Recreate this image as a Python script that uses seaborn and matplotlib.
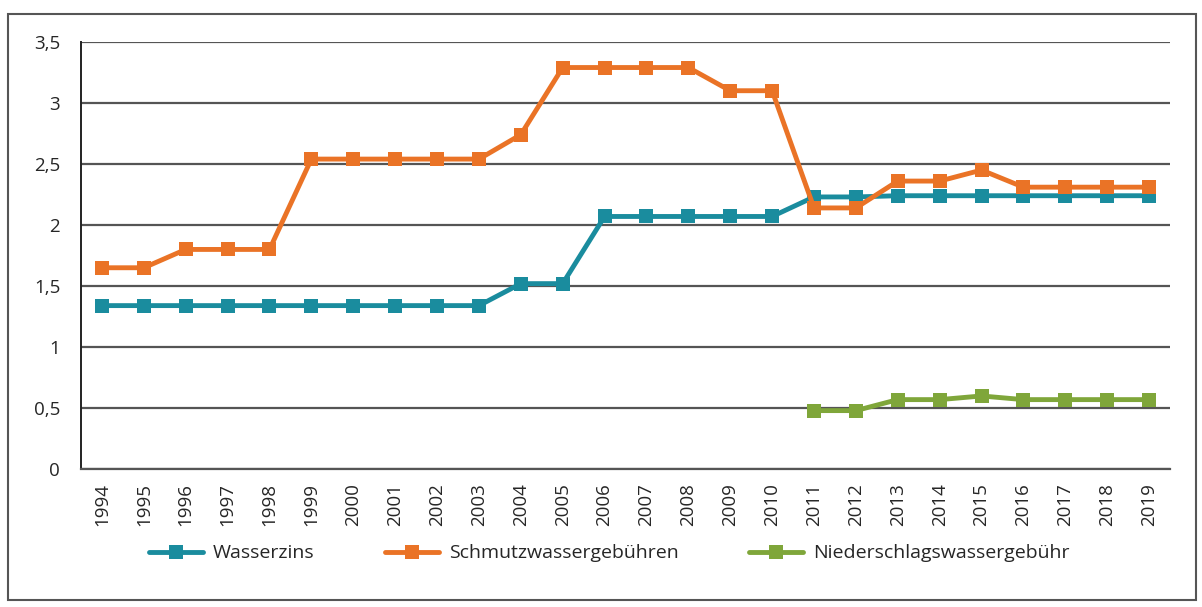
import matplotlib
matplotlib.use("Agg")
import matplotlib.pyplot as plt
import seaborn as sns
import pandas as pd
import numpy as np
from matplotlib.patches import Rectangle
from matplotlib.ticker import FuncFormatter, MultipleLocator

# data
jahre = list(range(1994, 2020))
wasserzins = [1.34, 1.34, 1.34, 1.34, 1.34, 1.34, 1.34, 1.34, 1.34, 1.34,
              1.52, 1.52, 2.07, 2.07, 2.07, 2.07, 2.07,
              2.23, 2.23, 2.24, 2.24, 2.24, 2.24, 2.24, 2.24, 2.24]
schmutzwasser = [1.65, 1.65, 1.80, 1.80, 1.80, 2.54, 2.54, 2.54, 2.54, 2.54,
                 2.74, 3.29, 3.29, 3.29, 3.29, 3.10, 3.10,
                 2.14, 2.14, 2.36, 2.36, 2.45, 2.31, 2.31, 2.31, 2.31]
niederschlag = [np.nan] * 17 + [0.48, 0.48, 0.57, 0.57, 0.60, 0.57, 0.57, 0.57, 0.57]

reihen = ["Wasserzins", "Schmutzwassergebühren", "Niederschlagswassergebühr"]
farben = ["#1a8c9e", "#ea7326", "#7fa63a"]

df = pd.DataFrame({
    "pos": list(range(len(jahre))) * 3,
    "wert": wasserzins + schmutzwasser + niederschlag,
    "reihe": [reihen[0]] * len(jahre) + [reihen[1]] * len(jahre) + [reihen[2]] * len(jahre),
})

sns.set_style("white")
plt.rcParams["font.family"] = ["Open Sans", "DejaVu Sans"]

fig = plt.figure(figsize=(12.02, 6.07), dpi=100)
ax = fig.add_axes([0.0674, 0.227, 0.906, 0.704])

sns.lineplot(data=df, x="pos", y="wert", hue="reihe", palette=farben,
             hue_order=reihen, marker="s", markersize=10, markeredgewidth=0,
             linewidth=3.5, ax=ax, legend=True)

ax.set_xlim(-0.5, len(jahre) - 0.5)
ax.set_ylim(0, 3.5)
ax.yaxis.set_major_locator(MultipleLocator(0.5))
ax.yaxis.set_major_formatter(FuncFormatter(lambda v, p: f"{v:g}".replace(".", ",")))
ax.grid(axis="y", color="#555555", linewidth=1.6)
ax.set_axisbelow(True)

ax.set_xticks(range(len(jahre)))
ax.set_xticklabels([str(j) for j in jahre], rotation=90, fontsize=13.5)
ax.set_xticks(np.arange(-0.5, len(jahre), 1), minor=True)
ax.tick_params(axis="x", which="major", length=0, pad=10)
ax.tick_params(axis="x", which="minor", length=7, width=1.2, color="#333333", direction="out")
ax.tick_params(axis="y", length=7, width=1.2, color="#333333", labelsize=13.5, pad=8)

for s in ["top", "right"]:
    ax.spines[s].set_visible(False)
ax.spines["left"].set_color("#222222")
ax.spines["left"].set_linewidth(1.4)
ax.spines["bottom"].set_color("#555555")
ax.spines["bottom"].set_linewidth(1.6)
ax.set_xlabel("")
ax.set_ylabel("")

ax.legend(loc="upper center", bbox_to_anchor=(0.485, -0.135), ncol=3, frameon=False,
          fontsize=14, handlelength=2.8, handletextpad=0.5, columnspacing=3.6)

fig.patches.append(Rectangle((0.007, 0.012), 0.988, 0.965, transform=fig.transFigure,
                             fill=False, edgecolor="#555555", linewidth=1.5))

fig.savefig("out.png", dpi=100)
